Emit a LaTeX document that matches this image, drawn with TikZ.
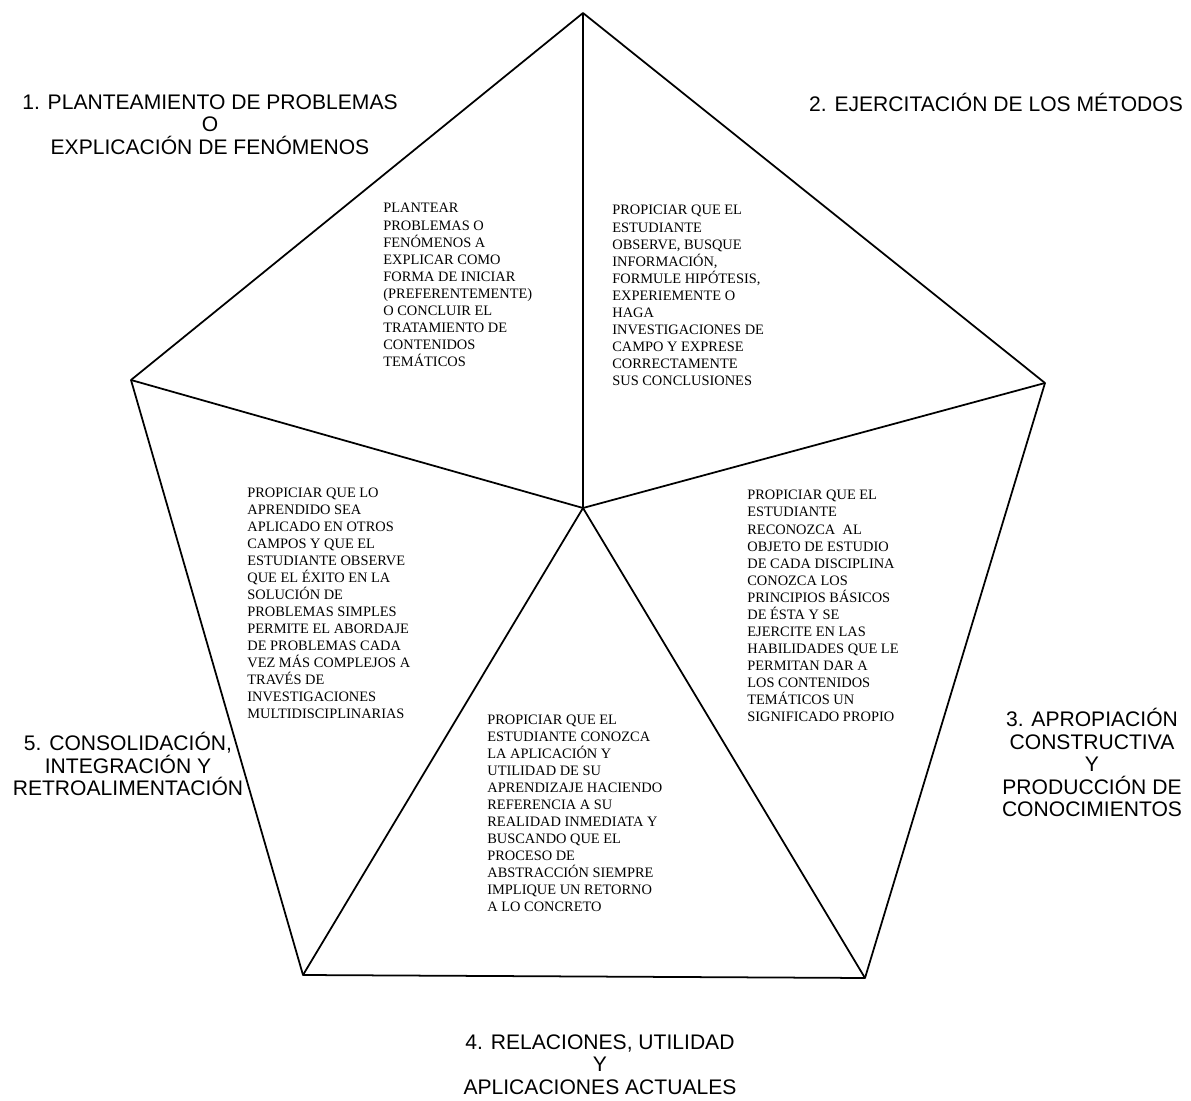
\documentclass[tikz,border=0pt]{standalone}
\usepackage{fontspec}
\setmainfont{Liberation Serif}
\newfontfamily\etapafont{Liberation Sans}

\begin{document}
\begin{tikzpicture}[
  x=0.02cm, y=-0.02cm,
  txt/.style={anchor=west, align=left, inner sep=0pt, font=\fontsize{8.2}{9.7}\selectfont},
  etapa/.style={align=center, inner sep=0pt, font=\etapafont\fontsize{12}{12.8}\selectfont},
  borde/.style={line width=1pt, line join=round}]
\useasboundingbox (0,0) rectangle (1191,1101);
% pentágono
\coordinate (C) at (583,508);
\coordinate (V1) at (583,13);
\coordinate (V2) at (1045,383);
\coordinate (V3) at (865,978);
\coordinate (V4) at (303,975);
\coordinate (V5) at (131,380);
\draw[borde] (V1) -- (V2) -- (V3) -- (V4) -- (V5) -- cycle;
\foreach \v in {V1,V2,V3,V4,V5}
  \draw[borde] (C) -- (\v);
% textos de cada sector
\node[txt] (S1) at (383,285) {PLANTEAR\\PROBLEMAS O\\FENÓMENOS A\\EXPLICAR COMO\\FORMA DE INICIAR\\(PREFERENTEMENTE)\\O CONCLUIR EL\\TRATAMIENTO DE\\CONTENIDOS\\TEMÁTICOS};
\node[txt] (S2) at (612,295.5) {PROPICIAR QUE EL\\ESTUDIANTE\\OBSERVE, BUSQUE\\INFORMACIÓN,\\FORMULE HIPÓTESIS,\\EXPERIEMENTE O\\HAGA\\INVESTIGACIONES DE\\CAMPO Y EXPRESE\\CORRECTAMENTE\\SUS CONCLUSIONES};
\node[txt] (S3) at (747,606) {PROPICIAR QUE EL\\ESTUDIANTE\\RECONOZCA\ \ AL\\OBJETO DE ESTUDIO\\DE CADA DISCIPLINA\\CONOZCA LOS\\PRINCIPIOS BÁSICOS\\DE ÉSTA Y SE\\EJERCITE EN LAS\\HABILIDADES QUE LE\\PERMITAN DAR A\\LOS CONTENIDOS\\TEMÁTICOS UN\\SIGNIFICADO PROPIO};
\node[txt] (S4) at (487,813.5) {PROPICIAR QUE EL\\ESTUDIANTE CONOZCA\\LA APLICACIÓN Y\\UTILIDAD DE SU\\APRENDIZAJE HACIENDO\\REFERENCIA A SU\\REALIDAD INMEDIATA Y\\BUSCANDO QUE EL\\PROCESO DE\\ABSTRACCIÓN SIEMPRE\\IMPLIQUE UN RETORNO\\A LO CONCRETO};
\node[txt] (S5) at (247,603.5) {PROPICIAR QUE LO\\APRENDIDO SEA\\APLICADO EN OTROS\\CAMPOS Y QUE EL\\ESTUDIANTE OBSERVE\\QUE EL ÉXITO EN LA\\SOLUCIÓN DE\\PROBLEMAS SIMPLES\\PERMITE EL ABORDAJE\\DE PROBLEMAS CADA\\VEZ MÁS COMPLEJOS A\\TRAVÉS DE\\INVESTIGACIONES\\MULTIDISCIPLINARIAS};
% etapas
\node[etapa] (E1) at (210,124.5) {1. PLANTEAMIENTO DE PROBLEMAS\\O\\EXPLICACIÓN DE FENÓMENOS};
\node[etapa] (E2) at (996,102) {2. EJERCITACIÓN DE LOS MÉTODOS};
\node[etapa] (E3) at (1092,762.5) {3. APROPIACIÓN\\CONSTRUCTIVA\\Y\\PRODUCCIÓN DE\\CONOCIMIENTOS};
\node[etapa] (E4) at (600,1064.5) {4. RELACIONES, UTILIDAD\\Y\\APLICACIONES ACTUALES};
\node[etapa] (E5) at (128,764) {5. CONSOLIDACIÓN,\\INTEGRACIÓN Y\\RETROALIMENTACIÓN};
\end{tikzpicture}
\end{document}
